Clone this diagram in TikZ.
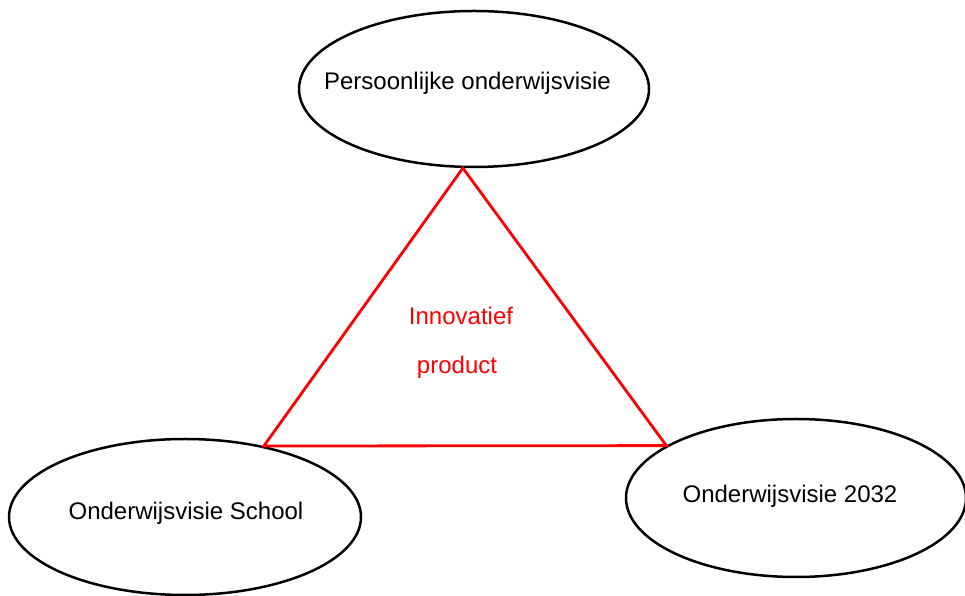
\documentclass[tikz,border=0pt]{standalone}
\usepackage{fontspec}
\setmainfont{Liberation Sans}
\usetikzlibrary{shapes.geometric}
\begin{document}
\begin{tikzpicture}[x=1pt,y=1pt,
						every node/.style={font=\fontsize{24}{29}\selectfont}]
						\tikzstyle{visie}=[draw,ellipse,line width=2.5pt,inner sep=0pt];
						\tikzstyle{visietekst}=[anchor=base,inner sep=0pt];
						\tikzstyle{driehoek}=[red,line width=2.8pt,line join=miter];
						\useasboundingbox (0,0) rectangle (965,596);
						\node[visie,minimum width=350,minimum height=156](persoonlijk) at (474,507) {};
						\node[visie,minimum width=352,minimum height=156](school) at (185,79) {};
						\node[visie,minimum width=340,minimum height=158](visie2032) at (796,98) {};
						\node[visietekst](persoonlijktekst) at (467.5,506) {Persoonlijke onderwijsvisie};
						\node[visietekst](schooltekst) at (186,76) {Onderwijsvisie School};
						\node[visietekst](visie2032tekst) at (790,93) {Onderwijsvisie 2032};
						\coordinate(top) at (persoonlijk.262.8);
						\coordinate(links) at (school.42.3);
						\coordinate(rechts) at (visie2032.158.3);
						\draw[driehoek] (top) -- (links) -- (rechts) -- cycle;
						\node[visietekst,red](innovatief) at (461,271) {Innovatief};
						\node[visietekst,red](product) at (457,222) {product};
					\end{tikzpicture}
\end{document}
